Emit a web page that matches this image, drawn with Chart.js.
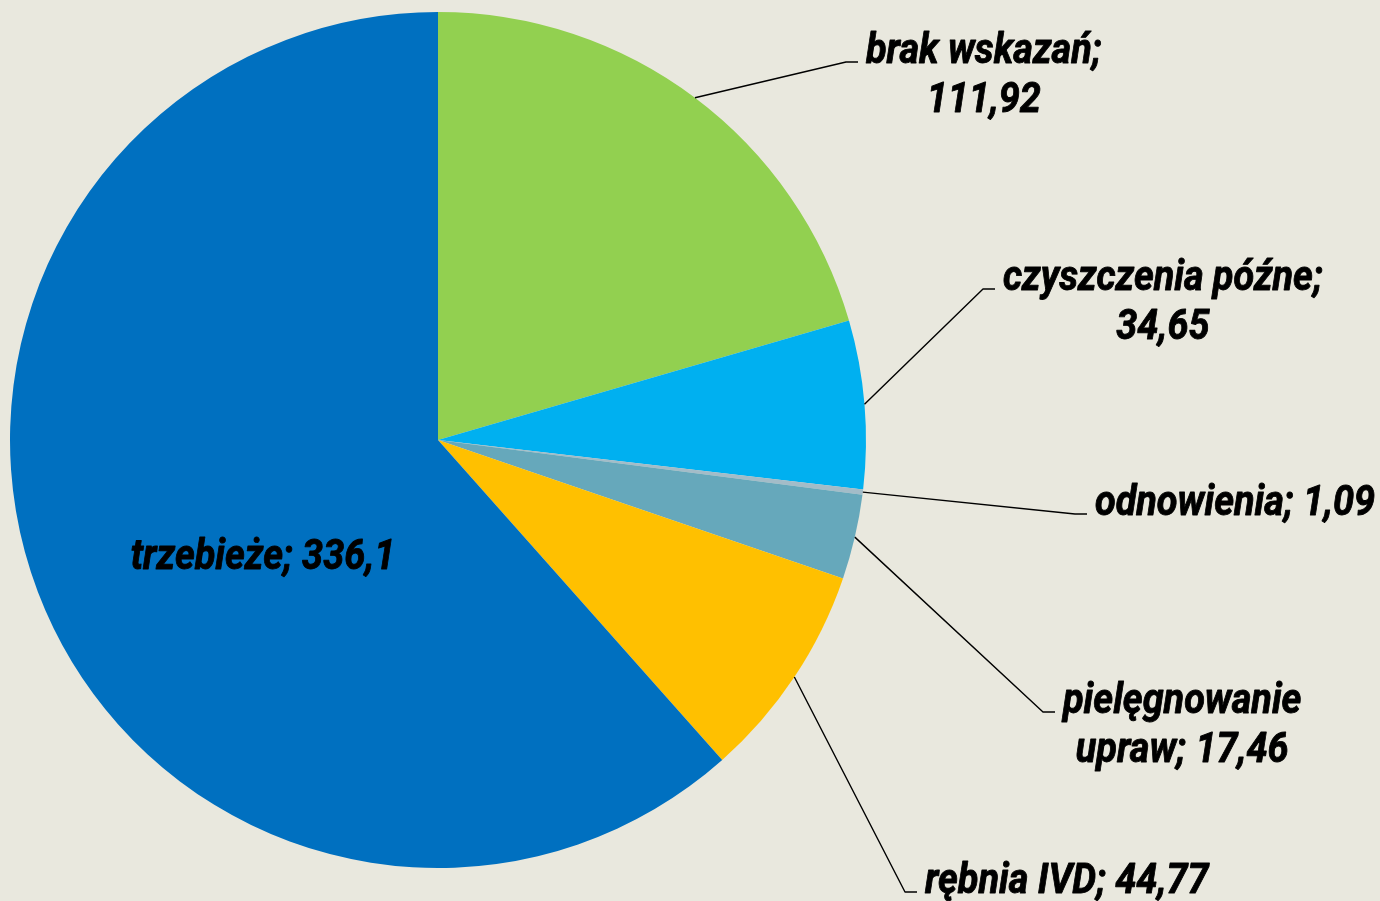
<!DOCTYPE html>
<html lang="pl">
<head>
  <meta charset="UTF-8">
  <title>Struktura cięć</title>
  <script src="https://cdn.jsdelivr.net/npm/chart.js"></script>
  <style>
    html, body { margin: 0; padding: 0; background: #E9E8DE; }
    #wrap { width: 1380px; height: 901px; position: relative; }
  </style>
</head>
<body>
  <div id="wrap"><canvas id="pieChart"></canvas></div>
  <script>
    const categories = ["brak wskazań", "czyszczenia późne", "odnowienia", "pielęgnowanie upraw", "rębnia IVD", "trzebieże"];
    const values = [111.92, 34.65, 1.09, 17.46, 44.77, 336.1];
    const colors = ["#92D050", "#00B0F0", "#A3BCC8", "#66A8BB", "#FFC000", "#0070C0"];

    // no narrow font installed, so squeeze Roboto horizontally
    const FONT = "italic bold 42px Roboto, 'Liberation Sans', sans-serif";
    const SQUEEZE = 0.9;

    // where each label goes (knee of the leader line), and how it wraps
    const labelLayout = [
      { knee: [846, 62], split: "value" },
      { knee: [983, 289], split: "value" },
      { knee: [1075, 514], split: "none" },
      { knee: [1043, 712], split: "word" },
      { knee: [905, 892], split: "none" },
      { inside: [263, 569] }
    ];

    function fmt(v) { return String(v).replace(".", ","); }

    function labelLines(i) {
      const name = categories[i], val = fmt(values[i]);
      const mode = labelLayout[i].split;
      if (mode === "value") return [name + ";", val];
      if (mode === "word") {
        const k = name.indexOf(" ");
        return [name.slice(0, k), name.slice(k + 1) + "; " + val];
      }
      return [name + "; " + val];
    }

    function drawText(ctx, text, x, y) {
      ctx.save();
      ctx.translate(x, y);
      ctx.scale(SQUEEZE, 1);
      ctx.lineWidth = 0.9;
      ctx.strokeText(text, 0, 0);
      ctx.fillText(text, 0, 0);
      ctx.restore();
    }

    const pieLabels = {
      id: "pieLabels",
      afterDatasetsDraw(chart) {
        const ctx = chart.ctx;
        const arcs = chart.getDatasetMeta(0).data;
        ctx.save();
        ctx.font = FONT;
        ctx.fillStyle = "#000";
        ctx.strokeStyle = "#000";
        ctx.lineJoin = "round";
        ctx.textBaseline = "alphabetic";
        ctx.textAlign = "center";
        arcs.forEach((arc, i) => {
          const lay = labelLayout[i];
          const lines = labelLines(i);
          if (lay.inside) {
            drawText(ctx, lines[0], lay.inside[0], lay.inside[1]);
            return;
          }
          const mid = (arc.startAngle + arc.endAngle) / 2;
          const sx = arc.x + Math.cos(mid) * arc.outerRadius;
          const sy = arc.y + Math.sin(mid) * arc.outerRadius;
          const [kx, ky] = lay.knee;
          ctx.lineWidth = 1.4;
          ctx.beginPath();
          ctx.moveTo(sx, sy);
          ctx.lineTo(kx, ky);
          ctx.lineTo(kx + 12, ky);
          ctx.stroke();
          const w = SQUEEZE * Math.max(...lines.map(l => ctx.measureText(l).width));
          const cx = kx + 20 + w / 2;
          lines.forEach((l, j) => drawText(ctx, l, cx, ky + 1 + j * 49));
        });
        ctx.restore();
      }
    };

    new Chart(document.getElementById("pieChart"), {
      type: "pie",
      data: {
        labels: categories,
        datasets: [{
          data: values,
          backgroundColor: colors,
          borderWidth: 0
        }]
      },
      options: {
        responsive: true,
        maintainAspectRatio: false,
        animation: false,
        layout: { padding: { left: 10, top: 12, right: 514, bottom: 33 } },
        plugins: {
          legend: { display: false },
          tooltip: { enabled: false }
        }
      },
      plugins: [pieLabels]
    });
  </script>
</body>
</html>
